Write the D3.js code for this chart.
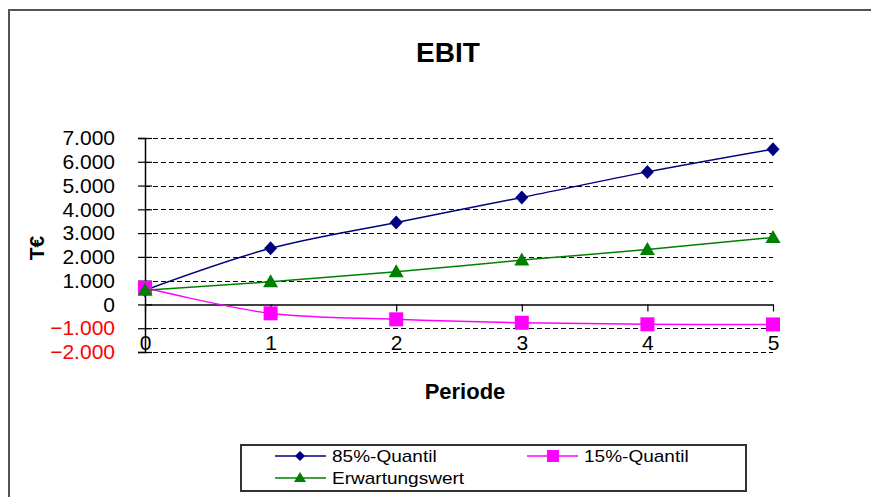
<!DOCTYPE html>
<html>
<head>
<meta charset="utf-8">
<script src="https://cdn.jsdelivr.net/npm/d3@7"></script>
<style>
  body { margin: 0; background: #fff; }
  text { font-family: "Liberation Sans", Arial, sans-serif; }
</style>
</head>
<body>
<div id="chart"></div>
<script>
// data
const perioden = [0, 1, 2, 3, 4, 5];
const quantil85 = [600, 2360, 3450, 4500, 5575, 6530];
const quantil15 = [700, -375, -625, -770, -835, -840];
const erwartungswert = [600, 950, 1370, 1865, 2315, 2820];
const yTicks = [-2000, -1000, 0, 1000, 2000, 3000, 4000, 5000, 6000, 7000];

const series = [
  { name: "85%-Quantil", values: quantil85, color: "#000080", marker: "diamond" },
  { name: "15%-Quantil", values: quantil15, color: "#FF00FF", marker: "square" },
  { name: "Erwartungswert", values: erwartungswert, color: "#008000", marker: "triangle" }
];

const width = 871, height = 497;
const svg = d3.select("#chart").append("svg")
  .attr("width", width).attr("height", height);

// outer chart frame (cut off at right / bottom)
svg.append("path")
  .attr("d", "M9,497 V10 H871")
  .attr("fill", "none").attr("stroke", "#555").attr("stroke-width", 2);

const x = d3.scaleLinear().domain([0, 5]).range([145, 773]);
const y = d3.scaleLinear().domain([-2000, 7000]).range([352, 138]);

const de = d3.formatLocale({ decimal: ",", thousands: ".", grouping: [3], currency: ["", " €"] });
const fmt = de.format(",");

// title
svg.append("text").attr("x", 448).attr("y", 62).attr("text-anchor", "middle")
  .attr("font-size", 28).attr("font-weight", "bold").text("EBIT");

// gridlines (dashed)
svg.append("g").selectAll("line")
  .data(yTicks.filter(d => d !== 0))
  .join("line")
  .attr("x1", x(0)).attr("x2", x(5))
  .attr("y1", d => Math.round(y(d)) + 0.5).attr("y2", d => Math.round(y(d)) + 0.5)
  .attr("stroke", "#000").attr("stroke-width", 1.2).attr("stroke-dasharray", "5,3");

// y axis
const yAxis = svg.append("g").attr("transform", `translate(${x(0)},0)`)
  .call(d3.axisLeft(y).tickValues(yTicks).tickSize(7).tickFormat(fmt).tickPadding(23));
yAxis.select(".domain").attr("stroke", "#000").attr("stroke-width", 1.5);
yAxis.selectAll(".tick line").attr("x2", 7).attr("x1", -7).attr("stroke-width", 1.2);
yAxis.selectAll(".tick text")
  .attr("font-size", 21).attr("font-family", "Liberation Sans, Arial, sans-serif")
  .attr("fill", d => d < 0 ? "#FF0000" : "#000");

// x axis at zero
const xAxis = svg.append("g").attr("transform", `translate(0,${y(0)})`)
  .call(d3.axisBottom(x).tickValues(perioden).tickSize(7).tickSizeOuter(0).tickFormat(d3.format("d")).tickPadding(24));
xAxis.select(".domain").attr("stroke", "#000").attr("stroke-width", 1.5);
xAxis.selectAll(".tick line").attr("stroke-width", 1.2);
xAxis.selectAll(".tick text")
  .attr("font-size", 21).attr("font-family", "Liberation Sans, Arial, sans-serif").attr("fill", "#000");

// axis titles
svg.append("text").attr("transform", "translate(44,248) rotate(-90)")
  .attr("text-anchor", "middle").attr("font-size", 21).attr("font-weight", "bold").text("T€");
svg.append("text").attr("x", 465).attr("y", 399).attr("text-anchor", "middle")
  .attr("font-size", 22).attr("font-weight", "bold").text("Periode");

// lines
const line = d3.line()
  .x((d, i) => x(perioden[i]))
  .y(d => y(d))
  .curve(d3.curveCatmullRom.alpha(0.5));

function drawMarker(g, type, color, cx, cy) {
  if (type === "diamond") {
    g.append("path").attr("d", `M${cx},${cy - 7}L${cx + 6.5},${cy}L${cx},${cy + 7}L${cx - 6.5},${cy}Z`).attr("fill", color);
  } else if (type === "square") {
    g.append("rect").attr("x", cx - 7).attr("y", cy - 7).attr("width", 14).attr("height", 14).attr("fill", color);
  } else {
    g.append("path").attr("d", `M${cx},${cy - 7.5}L${cx + 7.5},${cy + 5.5}L${cx - 7.5},${cy + 5.5}Z`).attr("fill", color);
  }
}

series.forEach(s => {
  const g = svg.append("g");
  g.append("path").attr("d", line(s.values))
    .attr("fill", "none").attr("stroke", s.color).attr("stroke-width", 1.5);
  s.values.forEach((v, i) => drawMarker(g, s.marker, s.color, x(perioden[i]), y(v)));
});

// legend
const legend = svg.append("g");
legend.append("rect").attr("x", 241).attr("y", 445).attr("width", 505).attr("height", 46)
  .attr("fill", "#fff").attr("stroke", "#333").attr("stroke-width", 2);
const legendPos = [[275, 456], [527, 456], [275, 478]];
series.forEach((s, i) => {
  const [lx, ly] = legendPos[i];
  legend.append("line").attr("x1", lx).attr("x2", lx + 51).attr("y1", ly).attr("y2", ly)
    .attr("stroke", s.color).attr("stroke-width", 1.5);
  const m = legend.append("g");
  if (s.marker === "diamond") {
    m.append("path").attr("d", `M${lx + 25},${ly - 5}L${lx + 30},${ly}L${lx + 25},${ly + 5}L${lx + 20},${ly}Z`).attr("fill", s.color);
  } else if (s.marker === "square") {
    m.append("rect").attr("x", lx + 20).attr("y", ly - 6).attr("width", 12).attr("height", 12).attr("fill", s.color);
  } else {
    m.append("path").attr("d", `M${lx + 25},${ly - 6}L${lx + 31},${ly + 4}L${lx + 19},${ly + 4}Z`).attr("fill", s.color);
  }
  legend.append("text")
    .attr("transform", `translate(${lx + 57},${ly + 6}) scale(1.12,1)`)
    .attr("font-size", 17).attr("fill", "#000").text(s.name);
});
</script>
</body>
</html>
